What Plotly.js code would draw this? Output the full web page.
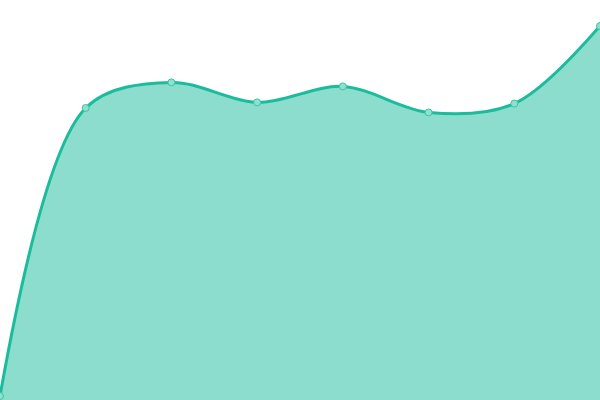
<!DOCTYPE html>
<html>
<head>
<meta charset="utf-8">
<script src="https://cdn.plot.ly/plotly-3.0.1.min.js"></script>
<style>
  html, body { margin: 0; padding: 0; background: #fff; }
  #chart { width: 600px; height: 400px; }
</style>
</head>
<body>
<div id="chart"></div>
<script>
// chart values
const xValues = [0, 1, 2, 3, 4, 5, 6, 7];
const yValues = [1, 73, 79.4, 74.4, 78.4, 71.9, 74.1, 93.5];

const trace = {
    x: xValues,
    y: yValues,
    type: 'scatter',
    mode: 'lines+markers',
    fill: 'tozeroy',
    fillcolor: 'rgba(26, 188, 156, 0.5)',
    line: { color: '#1abc9c', width: 3, shape: 'spline', smoothing: 0.95 },
    marker: {
        size: 7,
        color: '#8ee0cf',
        line: { color: '#3cc4a8', width: 1 }
    },
    hoverinfo: 'none'
};

const layout = {
    width: 600,
    height: 400,
    margin: { l: 0, r: 0, t: 0, b: 0 },
    paper_bgcolor: '#fff',
    plot_bgcolor: '#fff',
    showlegend: false,
    xaxis: { range: [0, 7], visible: false, fixedrange: true },
    yaxis: { range: [0, 100], visible: false, fixedrange: true }
};

Plotly.newPlot('chart', [trace], layout, { displayModeBar: false, staticPlot: true });
</script>
</body>
</html>
